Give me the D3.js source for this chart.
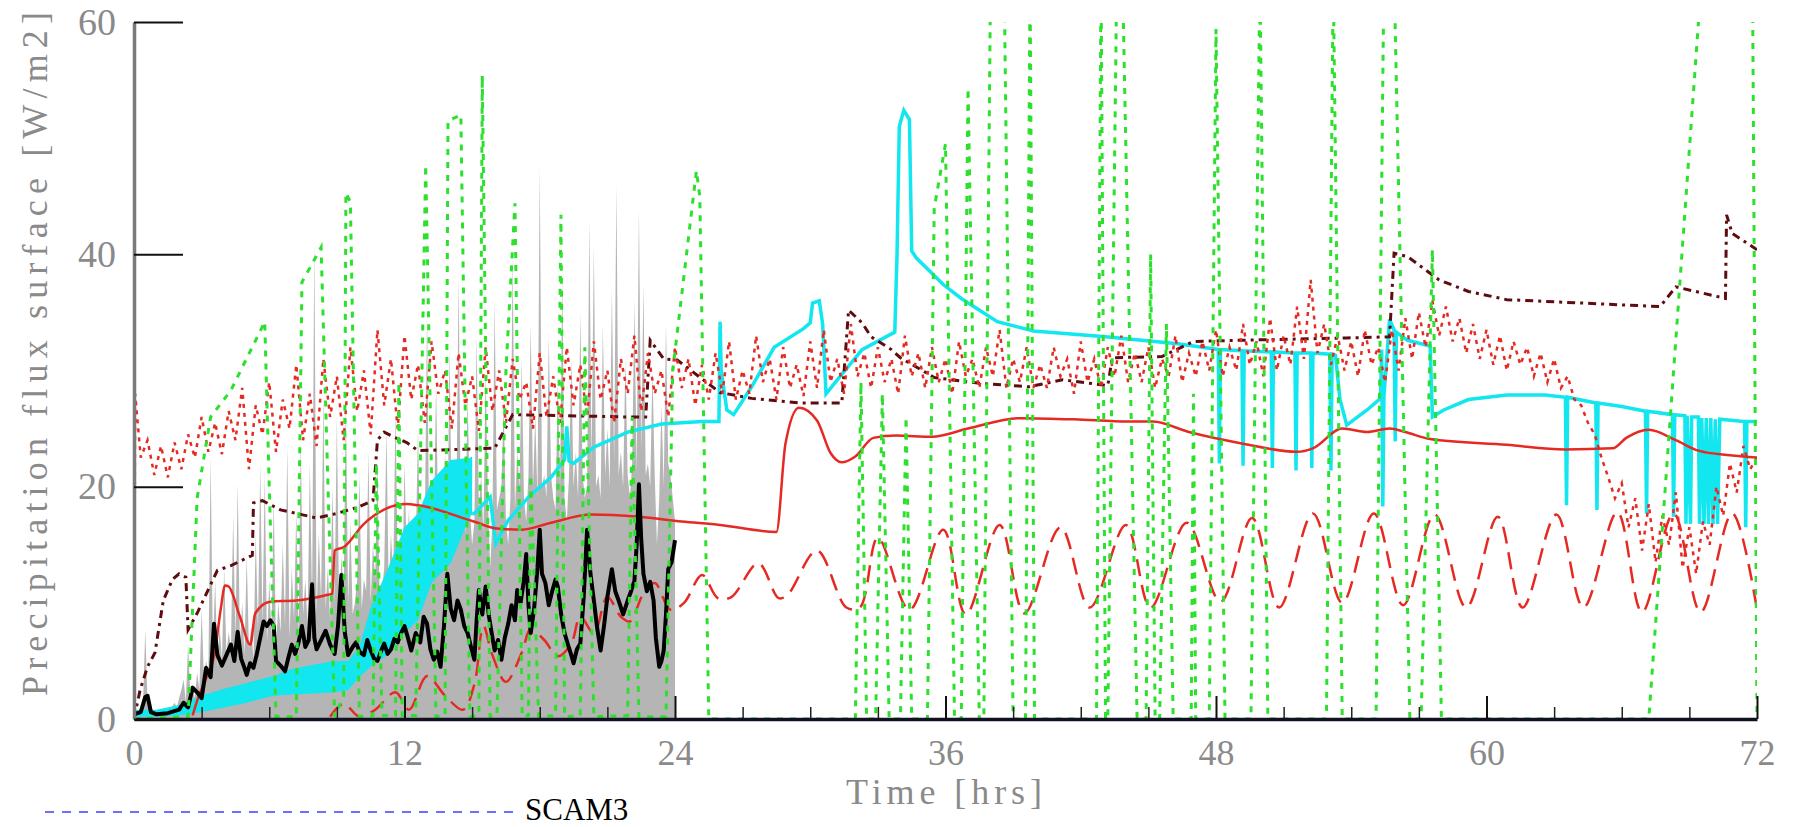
<!DOCTYPE html>
<html>
<head>
<meta charset="utf-8">
<script src="https://cdn.jsdelivr.net/npm/d3@7"></script>
<style>
  body { margin: 0; background: #fff; }
  svg { display: block; }
  text { font-family: "Liberation Serif", "Times New Roman", serif; }
</style>
</head>
<body>
<div id="viz-container"></div>
<script>
// ---- data (hours, W/m2) ----
const xMajorTicks = [0, 12, 24, 36, 48, 60, 72];
const xMinorTicks = [3, 6, 9, 15, 18, 21, 27, 30, 33, 39, 42, 45, 51, 54, 57, 63, 66, 69];
const yTicks = [0, 20, 40, 60];

// observed precip, sampled every 0.1 h from 0 to 24 h
const grayStart = 0, grayStep = 0.1;
const grayValues = [
  0.3,0.4,0.6,0.8,1.2,7.7,1.4,0.9,0.7,0.5, 0.5,0.6,0.5,0.7,0.6,0.8,0.9,1.1,1.4,1.0, 1.8,2.5,3.4,1.5,6.5,2.0,2.8,1.8,4.0,2.5,
  9.5,3.5,5.0,4.0,22.6,6.0,12.0,4.5,8.0,5.0, 13.0,5.5,7.5,6.0,17.5,7.0,20.3,6.5,10.0,5.5, 14.0,6.0,8.0,5.0,16.0,7.5,22.0,8.0,21.0,6.5,
  12.0,7.0,19.0,6.0,10.0,7.5,15.0,8.0,23.5,7.0, 13.0,8.5,18.0,7.0,24.0,9.0,12.0,8.0,22.0,10.0, 41.2,9.0,16.0,10.0,28.0,9.5,13.0,8.5,20.0,10.0,
  26.0,9.0,14.0,11.0,27.0,10.0,17.0,9.0,10.0,12.0, 21.0,9.5,12.0,11.0,23.0,10.0,15.0,12.0,22.0,10.0, 11.0,13.0,25.0,11.0,16.0,12.0,26.6,13.0,13.0,11.0,
  22.0,14.0,18.0,12.0,10.0,15.0,25.0,13.0,15.0,16.0, 35.0,14.0,17.0,15.0,29.0,16.0,13.0,17.0,23.0,15.0, 32.0,16.0,16.0,18.0,38.0,17.0,19.0,16.0,28.0,18.0,
  15.0,17.0,33.0,18.0,21.0,16.0,30.0,19.0,13.0,17.0, 36.0,18.0,19.0,20.0,27.0,17.0,15.0,19.0,40.0,18.0, 23.0,20.0,31.0,19.0,17.0,21.0,34.0,20.0,26.0,19.0,
  47.6,20.0,21.0,19.0,33.0,21.0,19.0,18.0,29.0,20.0, 38.0,19.0,17.0,21.0,31.0,20.0,23.0,19.0,35.0,21.0, 19.0,20.0,43.0,22.0,40.8,20.0,21.0,19.0,34.0,21.0,
  25.0,20.0,37.0,22.0,46.0,21.0,23.0,20.0,31.0,21.0, 19.0,22.0,36.0,21.0,43.9,23.0,37.4,21.0,22.0,20.0, 30.0,21.0,15.0,19.0,27.0,20.0,34.0,22.0,21.0,19.0,
  17.0];

const blackPts = [[0.0,0.4],[0.3,0.6],[0.5,1.9],[0.6,2.0],[0.75,0.6],[1.0,0.4],[1.5,0.5],[2.0,0.8],[2.2,1.4],[2.4,1.0],
  [2.6,2.7],[2.8,2.3],[3.0,1.8],[3.2,4.4],[3.4,3.6],[3.55,8.2],[3.7,5.5],[3.9,4.6],[4.1,5.5],[4.3,6.4],
  [4.45,5.0],[4.6,7.5],[4.75,5.2],[4.9,4.4],[5.0,3.8],[5.15,4.8],[5.3,4.4],[5.45,5.6],[5.6,7.0],[5.75,8.4],
  [5.9,8.0],[6.05,8.5],[6.2,8.0],[6.3,5.0],[6.5,4.6],[6.7,4.1],[6.85,5.3],[7.0,6.4],[7.15,5.6],[7.3,6.6],
  [7.45,8.0],[7.6,6.2],[7.75,6.8],[7.9,11.6],[8.0,7.0],[8.1,6.0],[8.3,6.8],[8.5,7.6],[8.7,6.4],[8.9,5.6],
  [9.05,8.0],[9.2,12.4],[9.35,7.5],[9.5,5.5],[9.7,6.2],[9.85,6.6],[10.0,5.8],[10.2,5.5],[10.35,6.8],[10.5,5.9],
  [10.65,5.2],[10.8,5.0],[10.95,5.8],[11.1,6.5],[11.25,5.6],[11.4,6.0],[11.55,6.9],[11.7,6.6],[11.85,7.4],[12.0,8.0],
  [12.15,7.0],[12.3,5.9],[12.5,7.4],[12.7,6.6],[12.85,8.8],[13.0,8.2],[13.15,6.0],[13.3,5.1],[13.45,5.8],[13.6,4.5],
  [13.75,8.0],[13.9,12.5],[14.05,9.5],[14.2,8.5],[14.35,10.2],[14.5,9.4],[14.65,8.0],[14.8,7.4],[14.95,6.2],[15.1,5.1],
  [15.2,8.5],[15.3,11.1],[15.45,9.0],[15.6,11.4],[15.75,8.8],[15.9,7.0],[16.0,5.9],[16.15,6.8],[16.3,5.1],[16.45,7.0],
  [16.6,8.2],[16.75,9.8],[16.9,8.5],[17.0,11.1],[17.15,10.0],[17.3,12.0],[17.4,14.2],[17.5,9.8],[17.6,7.4],[17.75,9.5],
  [17.9,13.0],[18.0,16.3],[18.1,12.5],[18.25,11.7],[18.4,9.8],[18.55,11.0],[18.7,12.0],[18.8,11.4],[18.95,9.0],[19.1,7.4],
  [19.25,6.4],[19.4,5.5],[19.5,4.8],[19.65,6.0],[19.8,6.5],[19.95,10.5],[20.1,16.3],[20.25,12.5],[20.4,10.2],[20.55,7.8],
  [20.7,5.9],[20.85,8.0],[21.0,10.5],[21.2,12.9],[21.35,11.0],[21.5,10.2],[21.7,9.0],[21.9,10.2],[22.05,11.0],[22.2,11.9],
  [22.3,15.0],[22.4,20.2],[22.5,15.5],[22.6,12.5],[22.75,11.0],[22.9,11.8],[23.05,10.2],[23.15,7.0],[23.3,4.5],[23.4,5.0],
  [23.5,5.9],[23.6,9.0],[23.7,12.9],[23.85,13.5],[24.0,15.4]];

// cyan: fast-oscillating early part drawn as a band, then a line
const cyanBandHours = [0,1,2,3,4,5,6.2,7,8,8.9,9.5,10.0,10.5,11.3,12.0,12.6,13.2,14.05,14.9,15.0];
const cyanBandLow   = [0.2,0.2,0.3,0.6,1.0,1.4,2.0,2.1,2.2,2.3,2.5,3.6,4.5,5.6,7.4,8.5,11.7,13.4,17.4,17.6];
const cyanBandHigh  = [0.8,0.8,1.2,2.0,2.6,3.1,3.7,4.3,4.7,5.0,5.0,6.2,9.6,13.1,16.5,17.7,20.5,22.3,22.5,22.6];
const cyanPts = [[15.0,17.7],[15.1,17.7],[15.8,19.1],[16.05,15.1],[16.6,17.1],[17.5,19.1],[18.5,20.8],[19.1,22.3],[19.2,25.2],[19.3,22.2],
  [19.5,22.0],[20.4,23.4],[21.9,24.7],[23.4,25.4],[25.2,25.6],[25.95,25.6],[26.0,34.2],[26.05,30.0],[26.3,26.6],[26.6,26.2],
  [27.4,28.6],[28.4,32.0],[29.7,33.6],[30.0,34.1],[30.1,35.8],[30.4,36.0],[30.55,34.0],[30.7,28.0],[31.2,29.2],[32.3,31.8],
  [33.75,33.3],[33.85,40.0],[33.95,51.0],[34.15,52.4],[34.4,51.6],[34.5,40.3],[34.7,39.7],[35.9,37.4],[36.7,36.2],[38.3,34.2],
  [39.9,33.4],[43.1,32.9],[46.3,32.3],[48.1,31.8],[48.15,22.0],[48.2,31.8],[49.15,31.7],[49.2,21.8],[49.25,31.7],[50.45,31.6],
  [50.5,21.6],[50.55,31.6],[51.5,31.5],[51.55,21.4],[51.6,31.5],[52.2,31.5],[52.25,21.6],[52.3,31.5],[53.05,31.4],[53.1,21.4],
  [53.15,31.4],[53.3,31.3],[53.5,27.5],[53.8,25.3],[54.7,26.6],[55.3,27.6],[55.35,31.8],[55.4,18.3],[55.45,27.8],[55.7,34.4],
  [55.9,33.5],[55.95,23.9],[56.0,33.3],[56.5,32.6],[57.5,32.1],[57.6,26.0],[58.1,26.6],[59.2,27.5],[60.9,27.9],[62.6,27.9],
  [63.5,27.7],[63.55,18.4],[63.6,27.7],[64.85,27.2],[64.9,18.0],[64.95,27.2],[66.0,26.9],[67.05,26.5],[67.1,17.7],[67.15,26.5],
  [68.25,26.2],[68.3,17.4],[68.35,26.2],[68.8,26.1],[68.85,16.8],[68.9,26.1],[69.05,16.8],[69.1,26.0],[69.4,26.0],[69.45,16.8],
  [69.55,25.9],[69.65,16.8],[69.75,25.9],[69.85,16.8],[69.95,25.9],[70.05,16.8],[70.15,25.8],[70.25,16.8],[70.35,25.8],[71.45,25.6],
  [71.5,16.5],[71.55,25.6],[72.0,25.6]];

const redSolidPts = [[2.6,0.3],[2.84,1.8],[3.2,3.5],[3.6,5.9],[3.85,9.5],[4.04,11.5],[4.2,11.4],[4.7,8.8],[5.16,6.4],[5.38,9.1],
  [6.04,10.1],[7.2,10.2],[8.6,10.7],[8.8,10.8],[8.9,14.5],[9.3,14.8],[10.2,16.8],[11.07,18.0],[12.1,18.5],[12.6,18.4],
  [15.07,17.0],[16.1,16.4],[17.2,16.3],[18.5,16.9],[20.3,17.6],[22.4,17.4],[24.3,17.0],[26.0,16.7],[28.5,16.1],[28.9,23.7],
  [29.5,26.8],[30.3,25.7],[30.9,22.9],[31.4,22.1],[32.0,22.6],[32.8,24.2],[33.8,24.4],[35.4,24.3],[37.0,25.0],[39.3,25.9],
  [41.7,25.8],[44.1,25.6],[45.2,25.6],[46.8,24.7],[49.2,23.7],[51.6,23.0],[52.3,23.3],[53.6,25.0],[54.7,24.7],[55.7,25.0],
  [56.4,24.7],[57.5,24.1],[60.9,23.6],[63.5,23.2],[65.6,23.3],[66.2,24.2],[67.2,24.9],[68.4,24.0],[69.4,23.1],[70.8,22.7],[72.0,22.5]];

const redDashPts = [[8.7,0.2],[9.3,1.3],[10.0,0.2],[10.7,0.8],[11.6,2.3],[12.2,0.8],[13.0,3.7],[13.8,2.0],[14.6,0.8],[15.1,3.0],
  [15.5,8.0],[15.9,5.5],[16.5,3.2],[17.2,5.7],[17.6,7.7],[18.2,6.8],[18.8,5.4],[19.4,6.5],[19.8,8.8],[20.4,7.4],
  [21.0,10.5],[21.6,8.8],[22.0,8.4],[22.6,10.8],[23.1,11.7],[23.8,9.4],[24.4,10.0],[25.2,12.4],[25.9,10.4],[26.5,10.5],
  [27.7,13.4],[28.6,10.4],[29.0,10.7],[30.3,14.5],[31.6,9.6],[32.2,9.6],[33.0,15.6],[34.4,9.4],[35.9,16.3],[36.9,9.0],
  [38.4,16.7],[39.5,9.1],[41.1,16.5],[42.4,9.6],[44.0,16.7],[45.1,9.6],[46.7,16.9],[48.2,10.1],[49.6,17.3],[50.8,9.6],
  [52.3,17.7],[53.6,10.0],[55.0,17.7],[56.3,9.8],[57.7,17.6],[59.1,9.6],[60.5,17.4],[61.6,9.6],[63.1,17.6],[64.3,9.6],
  [65.8,17.8],[66.9,9.2],[68.3,17.7],[69.5,9.2],[70.9,17.7],[72.0,9.4]];

const redDotPts = [[0,0],[0.05,28],[0.3,22.5],[0.6,24],[0.9,21],[1.2,23.5],[1.5,20.8],[1.8,23.8],[2.1,21.5],[2.4,24.5],
  [2.7,22.5],[3.0,26],[3.3,23],[3.6,25.5],[3.9,22.8],[4.2,26.5],[4.5,24],[4.8,28.5],[5.1,21.5],[5.4,27],
  [5.7,24.5],[6.0,29],[6.3,23],[6.6,27.5],[6.9,25],[7.2,30.5],[7.5,24],[7.8,28],[8.1,23.5],[8.4,31],
  [8.7,26],[9.0,29.5],[9.3,24],[9.6,32],[9.9,26.5],[10.2,30],[10.5,24.5],[10.8,33.5],[11.1,27],[11.4,31],
  [11.7,25],[12.0,33],[12.3,27.5],[12.6,30.5],[12.9,25.5],[13.2,32.5],[13.5,28],[13.8,30],[14.1,25],[14.4,31.5],
  [14.7,27],[15.0,29.5],[15.3,24.8],[15.6,32],[15.9,26.5],[16.2,30],[16.5,25.5],[16.8,31],[17.1,27.5],[17.4,29],
  [17.7,25],[18.0,31.5],[18.3,26],[18.6,29.5],[18.9,25.5],[19.2,32],[19.5,27],[19.8,30.5],[20.1,26],[20.4,32.5],
  [20.7,27.5],[21.0,30],[21.3,25.5],[21.6,31],[21.9,28],[22.2,33],[22.5,26.5],[22.8,31.5],[23.1,28],[23.4,30],
  [23.7,26],[24.0,32],[24.3,28.5],[24.6,31],[24.9,27],[25.2,30.5],[25.5,27.5],[25.8,31.5],[26.1,28],[26.4,32.5],
  [26.7,27.5],[27.0,30],[27.3,28],[27.6,33],[27.9,29],[28.2,31],[28.5,27.5],[28.8,32],[29.1,28.5],[29.4,30.5],
  [29.7,27.8],[30.0,32.5],[30.3,28.5],[30.6,33.5],[30.9,29],[31.2,31],[31.5,28],[31.8,34],[32.1,29.5],[32.4,31.5],
  [32.7,28.5],[33.0,32],[33.3,29],[33.6,31],[33.9,28],[34.2,33],[34.5,29.5],[34.8,31.5],[35.1,28.5],[35.4,32],
  [35.7,29],[36.0,31],[36.3,28],[36.6,32.5],[36.9,29.5],[37.2,31],[37.5,28.5],[37.8,32],[38.1,29.5],[38.4,33.5],
  [38.7,28.5],[39.0,31],[39.3,29],[39.6,32],[39.9,28.5],[40.2,30.5],[40.5,28.5],[40.8,32],[41.1,29.5],[41.4,31],
  [41.7,28],[42.0,32.5],[42.3,29],[42.6,31],[42.9,28.5],[43.2,32],[43.5,29.5],[43.8,33],[44.1,29],[44.4,31.5],
  [44.7,29],[45.0,32],[45.3,28.5],[45.6,31],[45.9,29.5],[46.2,33],[46.5,29],[46.8,31.5],[47.1,29.5],[47.4,32.5],
  [47.7,30],[48.0,33.5],[48.3,29.5],[48.6,32],[48.9,30],[49.2,34],[49.5,30.5],[49.8,32.5],[50.1,29.5],[50.4,34.5],
  [50.7,30],[51.0,33],[51.3,30.5],[51.6,35.5],[51.9,31],[52.2,37.8],[52.5,31.5],[52.8,34],[53.1,30.5],[53.4,33],
  [53.7,30],[54.0,32.5],[54.3,29.5],[54.6,33.5],[54.9,30.5],[55.2,32],[55.5,29],[55.8,33.5],[56.1,30],[56.4,34.5],
  [56.7,31],[57.0,35],[57.3,32],[57.6,36],[57.9,33],[58.2,35.5],[58.5,32.5],[58.8,34.5],[59.1,31.5],[59.4,34],
  [59.7,31],[60.0,33.5],[60.3,30.5],[60.6,33],[60.9,30],[61.2,32.5],[61.5,30.5],[61.8,32],[62.1,29.5],[62.4,31.5],
  [62.7,29],[63.0,31],[63.3,28.5],[63.6,29.5],[63.9,27.5],[64.2,27],[64.5,25.5],[64.8,24.5],[65.1,22.5],[65.4,20.8],
  [65.7,19],[66.0,20.3],[66.3,16.5],[66.6,19],[66.9,14.5],[67.2,18.5],[67.5,13.5],[67.8,17.5],[68.1,15],[68.4,19.5],
  [68.7,13],[69.0,16.5],[69.3,12.5],[69.6,17],[69.9,15],[70.2,20],[70.5,17.5],[70.8,22],[71.1,19.5],[71.4,23.5],
  [71.7,21.5],[72.0,22.5]];

const maroonPts = [[0,0],[0.27,2.5],[0.6,4.5],[0.93,5.7],[1.3,10.2],[1.7,12.0],[2.0,12.5],[2.3,12.2],[2.4,7.7],[2.8,9.1],
  [3.7,12.8],[4.3,13.2],[5.25,14.1],[5.3,18.6],[5.7,18.8],[6.5,18.0],[7.2,17.7],[8.1,17.3],[9.0,17.7],[9.9,18.2],
  [10.6,18.8],[10.8,24.0],[11.1,24.7],[11.5,24.3],[12.1,23.8],[12.6,23.1],[15.8,23.3],[16.0,23.3],[16.8,26.2],[21.9,26.0],
  [22.7,26.0],[22.9,32.6],[23.5,31.0],[24.1,30.9],[26.0,28.1],[27.4,27.6],[29.6,27.2],[31.4,27.2],[31.7,35.2],[32.3,34.1],
  [32.7,32.9],[33.6,31.8],[34.0,31.1],[35.5,29.4],[37.5,28.9],[39.7,28.6],[41.2,29.2],[43.2,28.7],[43.4,31.1],[45.6,31.2],
  [47.0,32.5],[49.0,32.6],[53.8,32.8],[55.7,32.9],[55.9,40.1],[56.5,39.8],[57.9,37.8],[59.2,36.8],[60.9,36.1],[64.3,35.8],
  [67.7,35.5],[68.4,37.2],[70.6,36.2],[70.65,43.4],[70.9,41.8],[72.0,40.4]];

const greenPts = [[0,0],[2.4,0.2],[2.8,19],[3.4,26],[4.3,28.3],[5.6,33.4],[5.8,34.2],[6.0,20],[6.3,0.2],
  [7.2,0.2],[7.45,37.6],[8.3,40.6],[8.9,0.2],[9.3,2],[9.4,45.3],[9.6,44.5],[10.0,0.2],
  [10.6,0.3],[10.75,22],[11.0,0.3],[11.6,0.3],[11.75,29],[11.9,0.3],[12.5,0.3],[12.94,47.7],[13.4,0.2],
  [13.8,0.3],[13.93,51.5],[14.5,52.0],[14.9,0.2],[15.3,0.3],[15.45,55.4],[15.8,0.2],
  [16.1,0.3],[16.5,30],[16.9,44.4],[17.22,0.2],[17.5,0.3],[17.6,21],[17.95,0.2],
  [18.7,0.3],[18.94,43.4],[19.1,0.2],[19.8,0.3],[20.0,32],[20.4,0.2],[21.9,0.3],[22.1,26],[22.4,0.2],
  [23.6,0.2],[23.9,30],[24.95,47.2],[25.1,45],[25.5,0],
  [32.0,0],[32.25,29],[32.5,0],[32.9,0],[33.2,28],[33.5,0],[34.0,0],[34.25,26],[34.5,0],
  [35.2,0],[35.5,44],[36.0,49.5],[36.4,0],[36.7,0],[37.0,54.3],[37.5,0],
  [37.7,0],[38.0,64],[38.6,64],[39.0,0],[39.55,0],[39.75,64],[39.95,0],
  [42.7,0],[42.9,64],[43.1,0],[43.2,0],[43.6,64],[43.85,64],[44.5,0],
  [44.9,0],[45.1,40],[45.3,0],[45.5,0],[45.8,34],[46.1,0],[46.9,0],[47.0,28],[47.1,0],
  [47.7,0],[48.0,59.4],[48.4,0],[49.55,0],[49.95,64],[50.3,0],[52.9,0],[53.2,64],[53.6,0],
  [55.1,0],[55.45,64],[55.9,64],[56.6,0],[57.1,0],[57.6,40.4],[58.0,0],
  [67.2,0],[69.55,64],[71.8,64],[72.0,0]];

const legendLabel = 'SCAM3';

// ---- layout ----
const width = 1798, height = 827;
const x = d3.scaleLinear().domain([0, 72]).range([134, 1757]);
const y = d3.scaleLinear().domain([0, 60]).range([719, 22]);

const svg = d3.select('#viz-container')
  .append('svg')
    .attr('width', width)
    .attr('height', height);

svg.append('clipPath').attr('id', 'plot-clip')
  .append('rect')
    .attr('x', x(0)).attr('y', y(60))
    .attr('width', x(72) - x(0)).attr('height', y(0) - y(60));

const plot = svg.append('g').attr('clip-path', 'url(#plot-clip)');

const line = d3.line().x(d => x(d[0])).y(d => y(d[1]));

// observations
plot.append('path')
  .datum(grayValues)
  .attr('d', d3.area()
    .x((d, i) => x(grayStart + i * grayStep))
    .y0(y(0))
    .y1(d => y(d)))
  .attr('fill', '#b5b5b5');

// cyan band + line
plot.append('path')
  .datum(cyanBandHours)
  .attr('d', d3.area()
    .x(d => x(d))
    .y0((d, i) => y(cyanBandLow[i]))
    .y1((d, i) => y(cyanBandHigh[i])))
  .attr('fill', '#12e6ee');

plot.append('path')
  .datum(cyanPts)
  .attr('d', line)
  .attr('fill', 'none')
  .attr('stroke', '#12e6ee')
  .attr('stroke-width', 3.5);

// red solid
plot.append('path')
  .datum(redSolidPts)
  .attr('d', d3.line().x(d => x(d[0])).y(d => y(d[1])).curve(d3.curveMonotoneX))
  .attr('fill', 'none')
  .attr('stroke', '#e42a22')
  .attr('stroke-width', 2.5);

// red long dash
plot.append('path')
  .datum(redDashPts)
  .attr('d', d3.line().x(d => x(d[0])).y(d => y(d[1])).curve(d3.curveCatmullRom))
  .attr('fill', 'none')
  .attr('stroke', '#e42a22')
  .attr('stroke-width', 2.5)
  .attr('stroke-dasharray', '17,9');

// maroon dash-dot
plot.append('path')
  .datum(maroonPts)
  .attr('d', line)
  .attr('fill', 'none')
  .attr('stroke', '#5e0c10')
  .attr('stroke-width', 3)
  .attr('stroke-dasharray', '8,5,3,5');

// red dotted
plot.append('path')
  .datum(redDotPts)
  .attr('d', line)
  .attr('fill', 'none')
  .attr('stroke', '#e42a22')
  .attr('stroke-width', 2.5)
  .attr('stroke-dasharray', '4,5');

// black obs line
plot.append('path')
  .datum(blackPts)
  .attr('d', line)
  .attr('fill', 'none')
  .attr('stroke', '#000')
  .attr('stroke-width', 4)
  .attr('stroke-linejoin', 'round');

// green dotted
plot.append('path')
  .datum(greenPts)
  .attr('d', line)
  .attr('fill', 'none')
  .attr('stroke', '#2ee02e')
  .attr('stroke-width', 3)
  .attr('stroke-dasharray', '6,7');

// ---- axes ----
const xMinor = svg.append('g')
  .attr('transform', 'translate(0,' + y(0) + ')')
  .call(d3.axisBottom(x).tickValues(xMinorTicks).tickSizeInner(-12).tickSizeOuter(0).tickFormat(''));
xMinor.select('.domain').remove();
xMinor.selectAll('line').attr('stroke', '#222').attr('stroke-width', 1.5);

const xAxis = svg.append('g')
  .attr('transform', 'translate(0,' + y(0) + ')')
  .call(d3.axisBottom(x).tickValues(xMajorTicks).tickSizeInner(-23).tickSizeOuter(0).tickPadding(20));
xAxis.select('.domain').attr('stroke', '#111122').attr('stroke-width', 3.5);
xAxis.selectAll('line').attr('stroke', '#111').attr('stroke-width', 2);
xAxis.selectAll('text')
  .attr('fill', '#8a8a8a')
  .style('font-size', '36px')
  .style('font-family', '"Liberation Serif", serif');

const yAxis = svg.append('g')
  .attr('transform', 'translate(' + x(0) + ',0)')
  .call(d3.axisLeft(y).tickValues(yTicks).tickSizeInner(-49).tickSizeOuter(0).tickPadding(18));
yAxis.select('.domain').attr('stroke', '#7a7a7a').attr('stroke-width', 3.5);
yAxis.selectAll('line').attr('stroke', '#111').attr('stroke-width', 2);
yAxis.selectAll('text')
  .attr('fill', '#8a8a8a')
  .style('font-size', '38px')
  .style('font-family', '"Liberation Serif", serif');

// axis titles
svg.append('text')
  .attr('x', 846).attr('y', 804)
  .attr('textLength', 196).attr('lengthAdjust', 'spacing')
  .attr('fill', '#8a8a8a')
  .style('font-size', '36px')
  .text('Time [hrs]');

svg.append('text')
  .attr('transform', 'translate(47,696) rotate(-90)')
  .attr('textLength', 684).attr('lengthAdjust', 'spacing')
  .attr('fill', '#8a8a8a')
  .style('font-size', '36px')
  .text('Precipitation flux surface [W/m2]');

// legend
svg.append('line')
  .attr('x1', 45).attr('x2', 515)
  .attr('y1', 812).attr('y2', 812)
  .attr('stroke', '#6f6fff')
  .attr('stroke-width', 2)
  .attr('stroke-dasharray', '9,8');

svg.append('text')
  .attr('x', 525).attr('y', 820)
  .attr('fill', '#000')
  .style('font-size', '31px')
  .text(legendLabel);
</script>
</body>
</html>
